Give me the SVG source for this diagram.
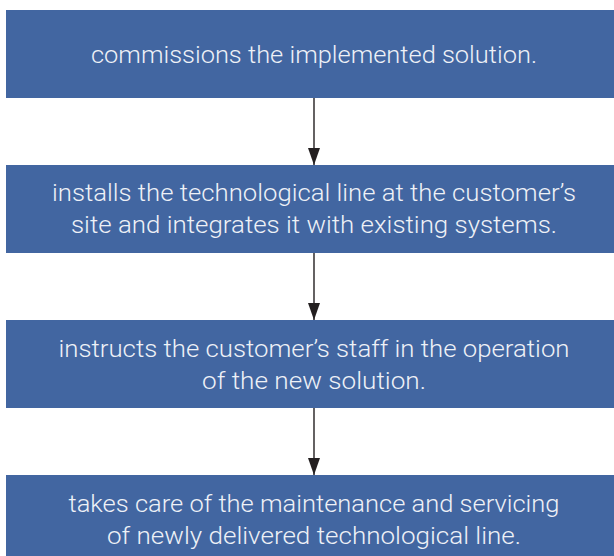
<svg xmlns="http://www.w3.org/2000/svg" width="614" height="556" viewBox="0 0 614 556">
<defs>
<style>
.box{fill:#4266a1}
.t{font-family:"Roboto","Liberation Sans",sans-serif;font-weight:300;font-size:23px;fill:#eef1f7;text-anchor:middle}
.c{stroke:#231f20;stroke-width:1.4;fill:none}
</style>
<marker id="ah" markerWidth="17" markerHeight="12" refX="17" refY="6" orient="auto" markerUnits="userSpaceOnUse" viewBox="0 0 17 12">
<path d="M0,0 L17,6 L0,12 Z" fill="#231f20"/>
</marker>
</defs>
<rect width="614" height="556" fill="#ffffff"/>
<g id="connectors">
<line class="c" x1="314" y1="98" x2="314" y2="165" marker-end="url(#ah)"/>
<line class="c" x1="314" y1="253" x2="314" y2="320" marker-end="url(#ah)"/>
<line class="c" x1="314" y1="408" x2="314" y2="475" marker-end="url(#ah)"/>
</g>
<g id="node1">
<rect class="box" x="6" y="10" width="616" height="88"/>
<text class="t" x="314" y="63" textLength="446" lengthAdjust="spacingAndGlyphs">commissions the implemented solution.</text>
</g>
<g id="node2">
<rect class="box" x="6" y="165" width="616" height="88"/>
<text class="t" x="314" y="201" textLength="524" lengthAdjust="spacingAndGlyphs">installs the technological line at the customer’s</text>
<text class="t" x="314" y="233" textLength="486" lengthAdjust="spacingAndGlyphs">site and integrates it with existing systems.</text>
</g>
<g id="node3">
<rect class="box" x="6" y="320" width="616" height="88"/>
<text class="t" x="314" y="357" textLength="511" lengthAdjust="spacingAndGlyphs">instructs the customer’s staff in the operation</text>
<text class="t" x="314" y="389" textLength="224" lengthAdjust="spacingAndGlyphs">of the new solution.</text>
</g>
<g id="node4">
<rect class="box" x="6" y="475" width="616" height="90"/>
<text class="t" x="314" y="512" textLength="491" lengthAdjust="spacingAndGlyphs">takes care of the maintenance and servicing</text>
<text class="t" x="314" y="544" textLength="414" lengthAdjust="spacingAndGlyphs">of newly delivered technological line.</text>
</g>
</svg>
